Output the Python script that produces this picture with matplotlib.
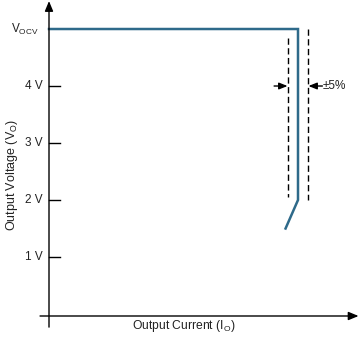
import matplotlib
matplotlib.use("Agg")
import matplotlib.pyplot as plt

plt.rcParams['font.family'] = ['Liberation Sans', 'DejaVu Sans']
plt.rcParams['mathtext.fontset'] = 'custom'
plt.rcParams['mathtext.rm'] = 'Liberation Sans'
plt.rcParams['mathtext.it'] = 'Liberation Sans'

# Data (current in % of rated current, voltage in V)
curve_current = [0, 100, 100, 95]
curve_voltage = [5, 5, 2, 1.5]
tol_low_current = 95.8
tol_high_current = 104.2
tol_low_v = [4.85, 2.05]
tol_high_v = [5.0, 2.0]
tick_values = [1, 2, 3, 4]
tick_labels = ['1 V', '2 V', '3 V', '4 V']
v_ocv = 5
tol_label = '±5%'
tol_arrow_v = 4.0

fig = plt.figure(figsize=(3.6, 3.38), dpi=100)
ax = fig.add_axes([0, 0, 1, 1])
ax.set_xlim(-19.68, 124.9)
ax.set_ylim(-0.421, 5.509)
ax.axis('off')

black = 'black'
# axes with arrows
ax.annotate('', xy=(124.3, -0.035), xytext=(-3.6, -0.035),
            arrowprops=dict(arrowstyle='-|>,head_length=0.6,head_width=0.25', color=black, lw=1,
                            shrinkA=0, shrinkB=0))
ax.annotate('', xy=(0, 5.49), xytext=(0, -0.23),
            arrowprops=dict(arrowstyle='-|>,head_length=0.6,head_width=0.25', color=black, lw=1,
                            shrinkA=0, shrinkB=0))

# ticks
for v, lab in zip(tick_values, tick_labels):
    ax.plot([0, 4.4], [v, v], color=black, lw=1)
    ax.text(-2.4, v, lab, ha='right', va='center', fontsize=8.5, color='#222222')
ax.text(-4.0, v_ocv, r'V$_{\mathrm{OCV}}$', ha='right', va='center', fontsize=8.5, color='#222222')

# curve
ax.plot(curve_current, curve_voltage, color='#2E6A8A', lw=1.8, solid_joinstyle='miter')

# tolerance dashed lines
ax.plot([tol_low_current] * 2, tol_low_v, color=black, lw=1, dashes=(4.5, 2.5))
ax.plot([tol_high_current] * 2, tol_high_v, color=black, lw=1, dashes=(4.5, 2.5))

# arrows
ax.annotate('', xy=(tol_low_current, tol_arrow_v), xytext=(90.4, tol_arrow_v),
            arrowprops=dict(arrowstyle='-|>,head_length=0.5,head_width=0.2', color=black, lw=1,
                            shrinkA=0, shrinkB=0))
ax.annotate('', xy=(tol_high_current, tol_arrow_v), xytext=(109.8, tol_arrow_v),
            arrowprops=dict(arrowstyle='-|>,head_length=0.5,head_width=0.2', color=black, lw=1,
                            shrinkA=0, shrinkB=0))
ax.text(110.0, tol_arrow_v, tol_label, ha='left', va='center', fontsize=8.5, color='#222222')

# axis labels
ax.text(54.2, -0.21, r'Output Current (I$_{\mathrm{O}}$)', ha='center', va='center', fontsize=8.7,
        color='#222222')
ax.text(-15.0, 2.44, r'Output Voltage (V$_{\mathrm{O}}$)', ha='center', va='center',
        fontsize=9, rotation=90, color='#222222')

fig.savefig('out.png', dpi=100)
